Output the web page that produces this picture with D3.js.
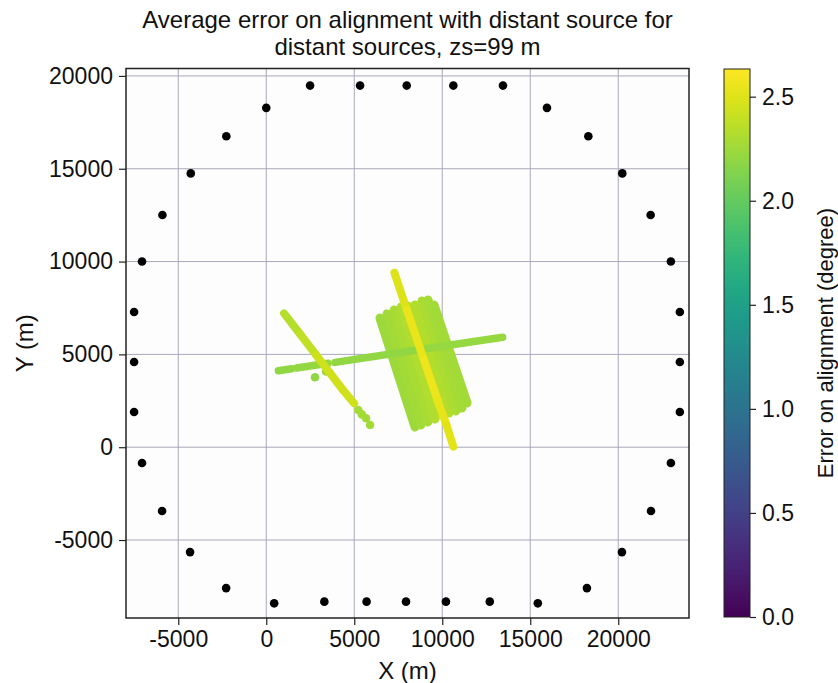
<!DOCTYPE html>
<html>
<head>
<meta charset="utf-8">
<script src="https://cdn.jsdelivr.net/npm/d3@7"></script>
<style>
body { margin: 0; background: #fff; }
text { font-family: "Liberation Sans", Arial, sans-serif; fill: #111; }
.grid line { stroke: #a8a8ba; stroke-width: 1; }
.axis path { display: none; }
.axis line { stroke: #222; stroke-width: 1.2; }
.axis text { font-size: 23px; }
</style>
</head>
<body>
<div id="chart"></div>
<script>
// ticks
var xTicks = [-5000, 0, 5000, 10000, 15000, 20000];
var yTicks = [-5000, 0, 5000, 10000, 15000, 20000];
var cbTicks = [0, 0.5, 1, 1.5, 2, 2.5];

// receivers (black dots), X and Y in metres
var recX = [2490, 5330, 7980, 10630, 13450,
            0, 15950, -2270, 18300, -4290, 20230, -5900, 21840,
            -7060, 22990, -7510, 23500, -7510, 23500, -7510, 23500,
            -7060, 22990, -5920, 21860, -4330, 20210, -2280, 18220,
            450, 3300, 5700, 7940, 10210, 12700, 15430];
var recY = [19480, 19480, 19480, 19480, 19480,
            18280, 18280, 16750, 16750, 14750, 14750, 12510, 12510,
            10000, 10000, 7280, 7280, 4590, 4590, 1900, 1900,
            -850, -850, -3440, -3440, -5650, -5650, -7590, -7590,
            -8410, -8320, -8320, -8320, -8320, -8320, -8410];

// source tracks: [x, y, error in degree]
var surveyLines = [
    [[6460, 6960, 2.24], [8450, 1090, 2.25]],
    [[6860, 7180, 2.26], [8790, 1200, 2.27]],
    [[7260, 7390, 2.28], [9190, 1360, 2.3]],
    [[7660, 7550, 2.31], [9590, 1520, 2.33]],
    [[8050, 7610, 2.35], [9990, 1730, 2.36]],
    [[8450, 7660, 2.33], [10380, 1840, 2.33]],
    [[8850, 7880, 2.3], [10780, 1950, 2.3]],
    [[9190, 7930, 2.28], [11120, 2110, 2.28]],
    [[9530, 7660, 2.27], [11410, 2380, 2.26]]
];
var crossLineA = [[690, 4120, 2.2], [1450, 4230, 2.2]];
var crossLineB = [[1730, 4270, 2.2], [3510, 4520, 2.22]];
var crossLineC = [[3910, 4570, 2.2], [8740, 5260, 2.2], [13430, 5920, 2.23]];
var crossDots = [[2770, 3770, 2.2], [3400, 4080, 2.22]];
var diagLine = [[1010, 7210, 2.32], [1920, 6100, 2.35], [2830, 4970, 2.42], [3620, 4000, 2.44], [4360, 3080, 2.45], [4990, 2370, 2.44]];
var diagTail = [[5230, 2000, 2.28], [5430, 1770, 2.28], [5670, 1560, 2.27], [5900, 1200, 2.27]];
var yellowLine = [[7280, 9400, 2.47], [7990, 7390, 2.52], [8960, 4700, 2.57], [9730, 2540, 2.56], [10240, 1200, 2.52], [10630, 30, 2.5]];

var margin = {top: 68.5, right: 149, bottom: 65, left: 126},
    width = 838 - margin.left - margin.right,
    height = 683 - margin.top - margin.bottom;

var x = d3.scaleLinear().domain([-7970, 24020]).range([0, width]);
var y = d3.scaleLinear().domain([-9200, 20400]).range([height, 0]);

var cMax = 2.633;
var color = d3.scaleSequential(d3.interpolateViridis).domain([0, cMax]);

var svg = d3.select("#chart").append("svg")
    .attr("width", 838)
    .attr("height", 683);

var g = svg.append("g")
    .attr("transform", "translate(" + margin.left + "," + margin.top + ")");

g.append("rect")
    .attr("width", width)
    .attr("height", height)
    .attr("fill", "#fdfdfd");

// GRID

var grid = g.append("g").attr("class", "grid");
grid.selectAll(".gx").data(xTicks).enter().append("line")
    .attr("x1", function(d) { return x(d); })
    .attr("x2", function(d) { return x(d); })
    .attr("y1", 0).attr("y2", height);
grid.selectAll(".gy").data(yTicks).enter().append("line")
    .attr("y1", function(d) { return y(d); })
    .attr("y2", function(d) { return y(d); })
    .attr("x1", 0).attr("x2", width);

// AXES

g.append("g")
    .attr("class", "axis")
    .attr("transform", "translate(0," + height + ")")
    .call(d3.axisBottom(x).tickValues(xTicks).tickSize(7).tickPadding(6).tickFormat(function(d) { return String(d); }));

g.append("g")
    .attr("class", "axis")
    .call(d3.axisLeft(y).tickValues(yTicks).tickSize(7).tickPadding(6).tickFormat(function(d) { return String(d); }));

// SOURCE TRACKS

function drawTrack(pts, w) {
    var segs = d3.pairs(pts);
    g.append("g").selectAll("line")
        .data(segs)
        .enter().append("line")
        .attr("x1", function(d) { return x(d[0][0]); })
        .attr("y1", function(d) { return y(d[0][1]); })
        .attr("x2", function(d) { return x(d[1][0]); })
        .attr("y2", function(d) { return y(d[1][1]); })
        .attr("stroke", function(d) { return color((d[0][2] + d[1][2]) / 2); })
        .attr("stroke-width", w)
        .attr("stroke-linecap", "round");
}

function drawDots(pts, r) {
    g.append("g").selectAll("circle")
        .data(pts)
        .enter().append("circle")
        .attr("cx", function(d) { return x(d[0]); })
        .attr("cy", function(d) { return y(d[1]); })
        .attr("r", r)
        .attr("fill", function(d) { return color(d[2]); });
}

surveyLines.forEach(function(l) { drawTrack(l, 9); });
drawTrack(crossLineA, 7.5);
drawTrack(crossLineB, 7.5);
drawTrack(crossLineC, 7.5);
drawDots(crossDots, 4.3);
drawTrack(diagLine, 8);
drawDots(diagTail, 4.3);
drawTrack(yellowLine, 8);

// RECEIVERS

g.append("g").selectAll("circle")
    .data(d3.range(recX.length))
    .enter().append("circle")
    .attr("cx", function(i) { return x(recX[i]); })
    .attr("cy", function(i) { return y(recY[i]); })
    .attr("r", 4.3)
    .attr("fill", "#000");

// FRAME

g.append("rect")
    .attr("width", width)
    .attr("height", height)
    .attr("fill", "none")
    .attr("stroke", "#222")
    .attr("stroke-width", 1.5);

// TITLE AND LABELS

var cx = margin.left + width / 2;
svg.append("text").attr("x", cx).attr("y", 28).attr("text-anchor", "middle")
    .style("font-size", "24px").text("Average error on alignment with distant source for");
svg.append("text").attr("x", cx).attr("y", 55).attr("text-anchor", "middle")
    .style("font-size", "24px").text("distant sources, zs=99 m");

svg.append("text").attr("x", cx).attr("y", 679).attr("text-anchor", "middle")
    .style("font-size", "24px").text("X (m)");

svg.append("text")
    .attr("transform", "translate(33," + (margin.top + height / 2) + ") rotate(-90)")
    .attr("text-anchor", "middle")
    .style("font-size", "24px").text("Y (m)");

// COLORBAR

var cb = {x: 724, w: 26, top: 69, bottom: 617};
var cy = d3.scaleLinear().domain([0, cMax]).range([cb.bottom, cb.top]);

var grad = svg.append("defs").append("linearGradient")
    .attr("id", "viridis")
    .attr("x1", 0).attr("y1", 1).attr("x2", 0).attr("y2", 0);
grad.selectAll("stop")
    .data(d3.range(0, 1.0001, 0.05))
    .enter().append("stop")
    .attr("offset", function(d) { return d; })
    .attr("stop-color", function(d) { return d3.interpolateViridis(d); });

svg.append("rect")
    .attr("x", cb.x).attr("y", cb.top)
    .attr("width", cb.w).attr("height", cb.bottom - cb.top)
    .attr("fill", "url(#viridis)")
    .attr("stroke", "#222").attr("stroke-width", 1);

svg.append("g")
    .attr("class", "axis")
    .attr("transform", "translate(" + (cb.x + cb.w) + ",0)")
    .call(d3.axisRight(cy).tickValues(cbTicks).tickSize(6).tickPadding(6).tickFormat(d3.format(".1f")));

svg.append("text")
    .attr("transform", "translate(833," + ((cb.top + cb.bottom) / 2) + ") rotate(-90)")
    .attr("text-anchor", "middle")
    .style("font-size", "22px").text("Error on alignment (degree)");
</script>
</body>
</html>
